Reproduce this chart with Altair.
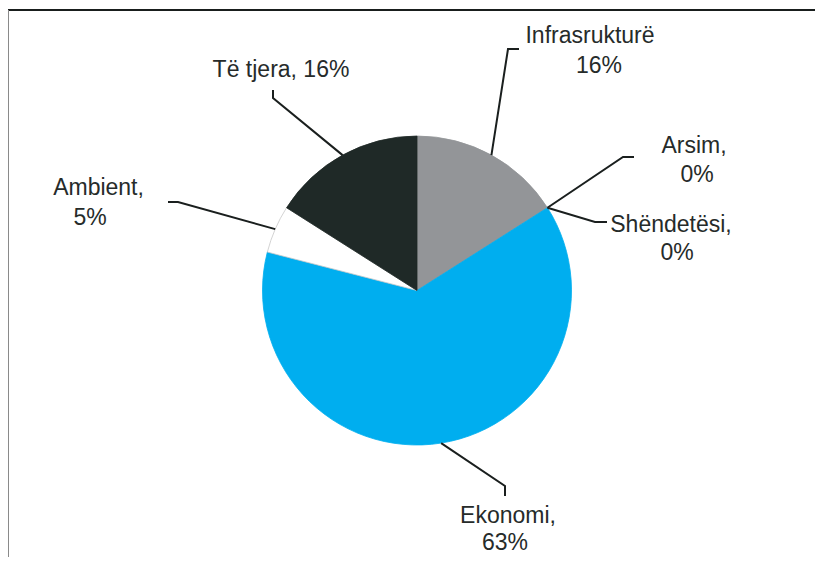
import math
import altair as alt
import pandas as pd

# ---- data ----
categories = ["Infrasrukturë", "Arsim", "Shëndetësi", "Ekonomi", "Ambient", "Të tjera"]
values = [16, 0, 0, 63, 5, 16]
colors = ["#939598", "#6d6e71", "#bcbec0", "#00AEEF", "#FFFFFF", "#1F2927"]
edge_colors = ["#939598", "transparent", "transparent", "#00AEEF", "#c8c8c8", "#1F2927"]
# label style: "stack" -> name / value on two lines, "comma_stack" -> "name," / value, "inline" -> one line
label_styles = ["stack", "comma_stack", "comma_stack", "comma_stack", "comma_stack", "inline"]

# ---- layout (page pixel coordinates, before the 8px page margin) ----
W, H = 807, 549
M = 8
CX, CY, R = 417 - M, 290.5 - M, 154.5
label_anchor = [  # (x, baseline y) for each label line
    [(590, 43), (599, 73)],
    [(694, 153), (697, 182)],
    [(671, 232), (677, 260)],
    [(508, 523), (505, 550)],
    [(98.5, 195), (90, 225)],
    [(281, 77)],
]
leader_pts = [  # elbow and end of each leader line
    [(508, 49), (519, 49)],
    [(623, 157), (634, 157)],
    [(595, 222), (607, 222)],
    [(505, 486), (505, 496)],
    [(178, 202), (168, 202)],
    [(273, 98), (273, 90)],
]

total = sum(values)
pie_df = pd.DataFrame({"cat": categories, "val": values, "idx": list(range(len(values)))})

# leader lines start at the slice's mid-angle on the rim
line_rows, text_rows = [], []
cum = 0
for i, (c, v) in enumerate(zip(categories, values)):
    mid = (cum + v / 2) / total * 2 * math.pi
    cum += v
    sx, sy = CX + R * math.sin(mid), CY - R * math.cos(mid)
    pts = [(sx, sy)] + [(px - M, py - M) for px, py in leader_pts[i]]
    for k, (px, py) in enumerate(pts):
        line_rows.append({"cat": c, "k": k, "px": px, "py": py})
    st = label_styles[i]
    if st == "stack":
        lines = [c, f"{v}%"]
    elif st == "comma_stack":
        lines = [f"{c},", f"{v}%"]
    else:
        lines = [f"{c}, {v}%"]
    for t, (ax, ay) in zip(lines, label_anchor[i]):
        text_rows.append({"t": t, "px": ax - M, "py": ay - M})

line_df = pd.DataFrame(line_rows)
text_df = pd.DataFrame(text_rows)

xs = alt.Scale(domain=[0, W], range=[0, W], zero=False, nice=False)
ys = alt.Scale(domain=[0, H], range=[0, H], zero=False, nice=False)

pie = alt.Chart(pie_df).mark_arc(outerRadius=R, strokeWidth=0.8).encode(
    theta=alt.Theta("val:Q", stack=True),
    order=alt.Order("idx:Q"),
    color=alt.Color("cat:N", scale=alt.Scale(domain=categories, range=colors), legend=None),
    stroke=alt.Stroke("cat:N", scale=alt.Scale(domain=categories, range=edge_colors), legend=None),
    x=alt.value(CX),
    y=alt.value(CY),
)

leaders = alt.Chart(line_df).mark_line(color="#1a1f1e", strokeWidth=2).encode(
    x=alt.X("px:Q", scale=xs, axis=None),
    y=alt.Y("py:Q", scale=ys, axis=None),
    detail="cat:N",
    order="k:Q",
)

labels = alt.Chart(text_df).mark_text(
    font="Liberation Sans", fontSize=23, color="#262b2a", align="center", baseline="alphabetic"
).encode(
    x=alt.X("px:Q", scale=xs, axis=None),
    y=alt.Y("py:Q", scale=ys, axis=None),
    text="t:N",
)

frame_top = alt.Chart(pie_df).mark_rule(color="#1a1f1e", strokeWidth=1.5).encode(
    x=alt.value(0), x2=alt.value(W), y=alt.value(2)
)
frame_left = alt.Chart(pie_df).mark_rule(color="#8a8a8a", strokeWidth=1).encode(
    x=alt.value(0.5), y=alt.value(2), y2=alt.value(H)
)

chart = alt.layer(pie, leaders, labels, frame_top, frame_left).properties(
    width=W, height=H, padding=0, autosize=alt.AutoSizeParams(type="none"), background="white"
).configure_view(strokeWidth=0)

chart.save("out.html", embed_options={"renderer": "svg", "actions": False})
